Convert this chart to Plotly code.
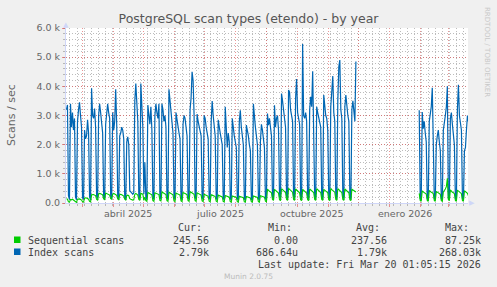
import pandas as pd
import numpy as np
import plotly.graph_objects as go

# ---------------- data (daily averages, scans / sec) ----------------
seg1_start = "2025-02-13"   # Thursday
seg2_start = "2026-01-30"   # Friday

index_seg1 = [
    3200, 3360, 250, 120,
    3400, 2600, 3100, 2500, 2900, 200, 110,
    2800, 3200, 3450, 3000, 2600, 180, 120,
    2500, 2200, 2300, 2850, 2400, 210, 100,
    3930, 3000, 2900, 3240, 2600, 230, 150,
    3000, 3400, 3100, 2800, 2400, 200, 130,
    2700, 3200, 3400, 3100, 2900, 220, 140,
    3100, 2500, 2800, 3900, 2700, 210, 120,
    2300, 2400, 2600, 2500, 2200, 190, 110,
    2100, 2270, 2000, 420, 380, 350, 300,
    350, 3500, 4100, 3200, 2800, 200, 150,
    4100, 3200, 2600, 300, 1400, 180, 120,
    3360, 2900, 2700, 3300, 2500, 210, 130,
    3000, 3400, 3100, 2900, 3400, 200, 140,
    3400, 3200, 2800, 3000, 2600, 190, 120,
    3900, 3500, 3100, 2900, 2400, 200, 130,
    3100, 2800, 2500, 2400, 2200, 180, 110,
    2700, 3000, 2900, 2600, 2300, 170, 120,
    3200, 3600, 4500, 4200, 3000, 200, 130,
    3050, 2800, 2600, 2500, 2300, 190, 120,
    3000, 2900, 2600, 2400, 2200, 180, 110,
    2800, 3500, 3000, 2600, 2300, 170, 100,
    2850, 2500, 2400, 2200, 2000, 160, 100,
    3300, 2600, 1900, 2400, 2100, 150, 100,
    2900, 2500, 2300, 2100, 1900, 150, 90,
    2800, 3180, 2600, 2300, 2000, 140, 90,
    2670, 2500, 2300, 2000, 1800, 130, 80,
    3400, 2900, 2600, 2300, 2000, 140, 90,
    2100, 2700, 2500, 2200, 1900, 150, 100,
    3070, 2670, 2900, 2500, 2300, 200, 120,
    3350, 2600, 2900, 3000, 2500, 210, 130,
    3750, 3500, 3100, 2900, 2600, 220, 140,
    3870, 3800, 3200, 3000, 2800, 230, 150,
    3600, 4250, 3100, 2900, 2700, 220, 140,
    5450, 3000, 2900, 3100, 2800, 210, 130,
    3200, 3640, 3300, 4520, 2700, 220, 140,
    3300, 3100, 2900, 2800, 2600, 210, 130,
    3700, 3200, 3000, 2900, 2500, 200, 120,
    3300, 3700, 4350, 3100, 2800, 220, 140,
    3500, 4670, 4900, 3200, 2900, 230, 150,
    3300, 3700, 3200, 3000, 2800, 210, 130,
    3200, 3500, 3000, 2800, 4850,
]

seq_seg1 = [
    150, 130, 40, 30,
    120, 110, 130, 100, 90, 30, 20,
    130, 150, 140, 120, 100, 40, 30,
    160, 180, 170, 150, 130, 60, 40,
    280, 300, 290, 270, 250, 120, 100,
    310, 330, 320, 300, 280, 140, 120,
    340, 320, 300, 290, 270, 150, 130,
    300, 330, 310, 280, 260, 140, 110,
    290, 300, 280, 260, 240, 130, 100,
    260, 270, 250, 150, 130, 110, 100,
    110, 300, 330, 290, 270, 120, 90,
    330, 310, 300, 90, 200, 80, 60,
    360, 340, 320, 300, 280, 80, 60,
    350, 330, 320, 300, 290, 90, 70,
    380, 350, 330, 310, 290, 80, 60,
    370, 340, 320, 300, 280, 70, 50,
    340, 320, 310, 290, 270, 70, 50,
    360, 350, 330, 310, 280, 80, 60,
    390, 370, 350, 330, 300, 80, 60,
    350, 330, 310, 290, 270, 70, 50,
    300, 290, 270, 250, 230, 60, 40,
    280, 270, 260, 240, 220, 60, 40,
    270, 260, 240, 230, 210, 50, 40,
    260, 250, 230, 220, 200, 50, 30,
    240, 230, 220, 210, 190, 50, 30,
    230, 220, 210, 200, 180, 40, 30,
    220, 210, 200, 190, 170, 40, 30,
    240, 230, 220, 200, 190, 50, 30,
    250, 240, 230, 220, 200, 60, 40,
    480, 420, 400, 380, 350, 120, 90,
    470, 430, 410, 380, 340, 110, 80,
    490, 450, 420, 390, 360, 120, 90,
    500, 460, 430, 400, 370, 120, 90,
    480, 440, 420, 390, 350, 110, 80,
    470, 430, 400, 380, 340, 110, 80,
    480, 450, 420, 390, 360, 120, 90,
    490, 450, 420, 400, 360, 120, 90,
    470, 430, 410, 380, 350, 110, 80,
    500, 460, 430, 400, 370, 120, 90,
    490, 450, 420, 390, 360, 120, 90,
    480, 440, 410, 390, 350, 110, 80,
    470, 450, 420, 400, 380,
]

index_seg2 = [
    3180, 150, 100,
    3120, 2550, 2800, 2400, 2100, 150, 90,
    2800, 3070, 3300, 3950, 2200, 160, 100,
    2000, 2300, 2500, 2100, 1800, 140, 90,
    2500, 2700, 3000, 3300, 4000, 160, 100,
    2900, 3100, 2700, 2400, 2000, 150, 90,
    3200, 4050, 3000, 2800, 2500, 160, 100,
    1800, 1900, 2500, 3000, 2790,
]

seq_seg2 = [
    330, 90, 60,
    420, 380, 360, 340, 310, 90, 60,
    430, 390, 370, 350, 320, 90, 60,
    400, 370, 350, 330, 300, 80, 60,
    380, 420, 480, 560, 850, 120, 80,
    450, 400, 370, 350, 320, 90, 60,
    440, 400, 380, 350, 320, 90, 60,
    420, 390, 360, 330, 245.56,
]

x_start = "2025-02-13 01:05:15"
x_end = "2026-03-20 01:05:15"

y_ticks = [0, 1000, 2000, 3000, 4000, 5000, 6000]
y_labels = ["0.0", "1.0 k", "2.0 k", "3.0 k", "4.0 k", "5.0 k", "6.0 k"]

month_labels = ["abril 2025", "julio 2025", "octubre 2025", "enero 2026"]
month_label_dates = ["2025-04-16", "2025-07-16", "2025-10-16", "2026-01-16"]

legend_names = ["Sequential scans", "Index scans"]
legend_colors = ["#00CC00", "#0066B3"]
legend_cur = ["245.56", "2.79k"]
legend_min = ["0.00", "686.64u"]
legend_avg = ["237.56", "1.79k"]
legend_max = ["87.25k", "268.03k"]

# ---------------- build x/y with a gap between segments ----------------
def seg_dates(start, n):
    return list(pd.date_range(start, periods=n, freq="D") + pd.Timedelta(hours=12))

x_all = seg_dates(seg1_start, len(index_seg1)) + [None] + seg_dates(seg2_start, len(index_seg2))
idx_all = index_seg1 + [None] + index_seg2
seq_all = seq_seg1 + [None] + seq_seg2

fig = go.Figure()
fig.add_trace(go.Scatter(x=x_all, y=idx_all, mode="lines",
                         line=dict(color="#0066B3", width=1.2), connectgaps=False))
fig.add_trace(go.Scatter(x=x_all, y=seq_all, mode="lines",
                         line=dict(color="#00CC00", width=1.1), connectgaps=False))

GRID = "rgba(143,143,143,0.6)"
MGRID = "rgba(222,79,79,0.6)"
AXIS = "#CFD6F8"
FONTC = "#666666"
DASH = "1px,2px"

month_starts = list(pd.date_range("2025-03-01", "2026-03-01", freq="MS"))
week_starts = list(pd.date_range("2025-02-17", "2026-03-16", freq="7D"))

L, R, T, B = 66, 29, 28, 84
W, H = 497, 287
PW, PH = W - L - R, H - T - B

def pxx(px):
    return (px - L) / PW

def pxy(py):
    return (H - B - py) / PH

fig.update_layout(
    width=W, height=H,
    margin=dict(l=L, r=R, t=T, b=B),
    paper_bgcolor="#F0F0F0", plot_bgcolor="#FFFFFF",
    showlegend=False,
    font=dict(family="DejaVu Sans", color=FONTC),
    title=dict(text="PostgreSQL scan types (etendo) - by year",
               x=0.5, xref="container", xanchor="center",
               y=1 - 19 / H, yref="container", yanchor="middle",
               font=dict(size=12.5, color="#555555")),
    xaxis=dict(type="date", range=[x_start, x_end],
               tickvals=month_starts, ticktext=[""] * len(month_starts),
               showgrid=True, gridcolor=MGRID, griddash=DASH, gridwidth=1,
               ticks="outside", ticklen=3, tickcolor=MGRID,
               showline=True, linecolor=AXIS, linewidth=1, zeroline=False,
               minor=dict(tickmode="array", tickvals=week_starts, showgrid=True,
                          gridcolor=GRID, griddash=DASH, gridwidth=1,
                          ticks="outside", ticklen=2, tickcolor=GRID),
               fixedrange=True),
    yaxis=dict(range=[0, 6000], tickvals=y_ticks, ticktext=y_labels,
               showgrid=True, gridcolor=MGRID, griddash=DASH, gridwidth=1,
               ticks="outside", ticklen=3, tickcolor=MGRID,
               tickfont=dict(size=9.5, color=FONTC),
               showline=True, linecolor=AXIS, linewidth=1, zeroline=False,
               minor=dict(dtick=200, showgrid=True, gridcolor=GRID,
                          griddash=DASH, gridwidth=1,
                          ticks="outside", ticklen=2, tickcolor=GRID),
               fixedrange=True),
)

ann = []
# month labels
for d, t in zip(month_label_dates, month_labels):
    ann.append(dict(x=d, xref="x", y=pxy(213), yref="paper", text=t,
                    showarrow=False, xanchor="center", yanchor="middle",
                    font=dict(size=9.5, color=FONTC)))
# y title
ann.append(dict(x=pxx(11), xref="paper", y=pxy(115), yref="paper",
                text="Scans / sec", textangle=-90, showarrow=False,
                xanchor="center", yanchor="middle",
                font=dict(size=11, color=FONTC)))
# arrows
ann.append(dict(x=0, xref="paper", y=1, yref="paper", text="▲", showarrow=False,
                xanchor="center", yanchor="bottom", yshift=-3,
                font=dict(size=7, color=AXIS)))
ann.append(dict(x=1, xref="paper", y=0, yref="paper", text="▶", showarrow=False,
                xanchor="left", yanchor="middle", xshift=-1,
                font=dict(size=7, color=AXIS)))
# watermark
ann.append(dict(x=pxx(487), xref="paper", y=pxy(52), yref="paper",
                text="RRDTOOL / TOBI OETIKER", textangle=90, showarrow=False,
                xanchor="center", yanchor="middle",
                font=dict(size=7, color="#C8C8C8")))
ann.append(dict(x=pxx(248), xref="paper", y=pxy(276), yref="paper",
                text="Munin 2.0.75", showarrow=False,
                xanchor="center", yanchor="middle",
                font=dict(size=7.5, color="#BBBBBB")))

MONO = dict(family="DejaVu Sans Mono", size=10, color="#444444")
# header
for txt, px in zip(["Cur:", "Min:", "Avg:", "Max:"], [203, 293, 381, 470]):
    ann.append(dict(x=pxx(px), xref="paper", y=pxy(227), yref="paper", text=txt,
                    showarrow=False, xanchor="right", yanchor="middle",
                    borderpad=0, font=MONO))
shapes = []
for i, (name, col) in enumerate(zip(legend_names, legend_colors)):
    py = 240 + 12 * i
    ann.append(dict(x=pxx(27), xref="paper", y=pxy(py), yref="paper", text=name,
                    showarrow=False, xanchor="left", yanchor="middle",
                    borderpad=0, font=MONO))
    for vals, px in zip([legend_cur, legend_min, legend_avg, legend_max],
                        [210, 299, 388, 482]):
        ann.append(dict(x=pxx(px), xref="paper", y=pxy(py), yref="paper",
                        text=vals[i], showarrow=False, xanchor="right",
                        yanchor="middle", borderpad=0, font=MONO))
    shapes.append(dict(type="rect", xref="paper", yref="paper",
                       x0=pxx(14), x1=pxx(20.5), y0=pxy(py + 3), y1=pxy(py - 3.5),
                       fillcolor=col, line=dict(width=0)))
ann.append(dict(x=pxx(482), xref="paper", y=pxy(264), yref="paper",
                text="Last update: Fri Mar 20 01:05:15 2026", showarrow=False,
                xanchor="right", yanchor="middle", borderpad=0, font=MONO))

fig.update_layout(annotations=ann, shapes=shapes)
fig.write_html("out.html")
